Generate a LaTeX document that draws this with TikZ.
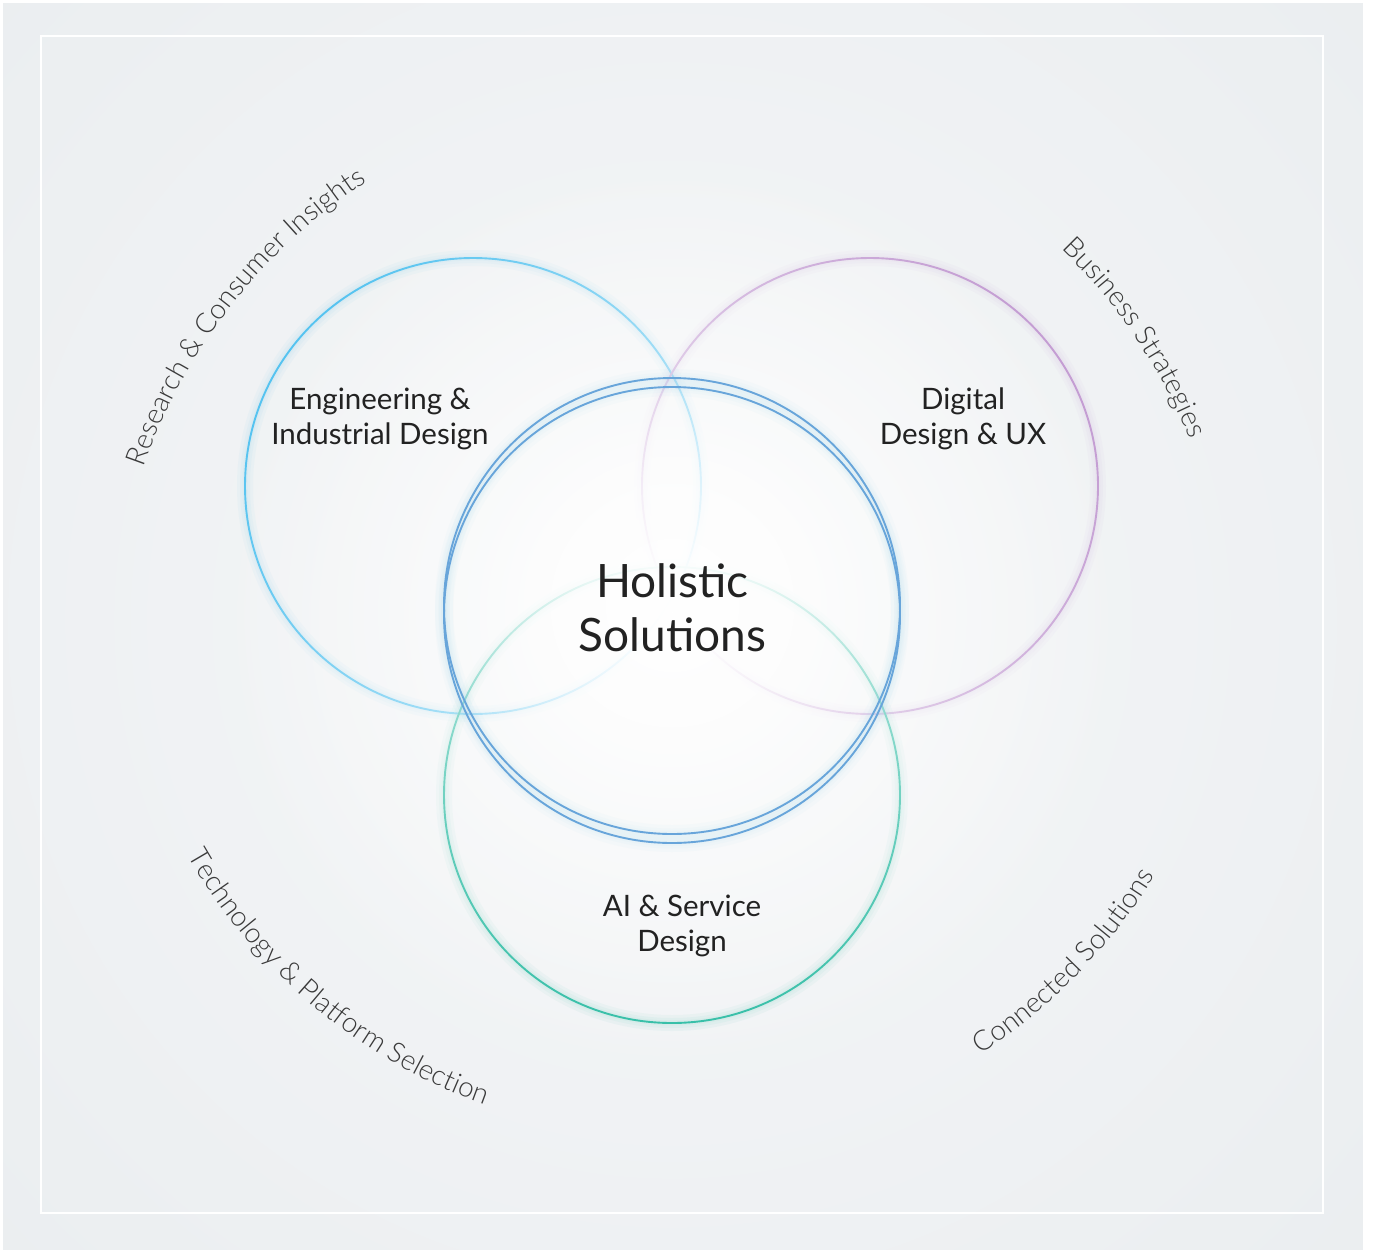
\documentclass[tikz,border=0pt]{standalone}
\usepackage{fontspec}
\setmainfont{Lato}
\newfontfamily\lightfont{Lato Light}
\usetikzlibrary{decorations.text,fadings}
\definecolor{panel}{HTML}{E6EAED}
\definecolor{ringblue}{HTML}{55C3F0}
\definecolor{ringpurple}{HTML}{C49DD3}
\definecolor{ringgreen}{HTML}{20B89E}
\definecolor{ringcore}{HTML}{68A5DA}
\definecolor{halocore}{HTML}{9FD3F0}
\definecolor{txtdark}{HTML}{222222}
\definecolor{txtarc}{HTML}{3A3A3A}
\tikzfading[name=softfade, inner color=transparent!35, outer color=transparent!100]
\tikzfading[name=glowfade, inner color=transparent!0, outer color=transparent!100]
\tikzset{
  ring/.style={line width=1.9pt},
  halo/.style={line width=#1, draw opacity=0.05},
  lbl/.style={font=\fontsize{29.5}{35}\selectfont, text=txtdark, inner sep=0pt, anchor=base},
  biglbl/.style={font=\fontsize{46}{55}\selectfont, text=txtdark, inner sep=0pt, anchor=base},
  arctext/.style={decorate, decoration={text along path, text align=center, text color=txtarc, text={|\lightfont\fontsize{28}{30}\selectfont|#1}}}
}
\begin{document}
\begin{tikzpicture}[x=1pt,y=1pt]
\useasboundingbox (0,0) rectangle (1376,-1251);
\fill[white] (0,0) rectangle (1376,-1251);
\fill[panel] (3,-3) rectangle (1363,-1250);
\begin{scope}
  \clip (3,-3) rectangle (1363,-1250);
  \fill[white, path fading=softfade] (672,-620) circle (1350);
\end{scope}
\draw[white, line width=2pt] (40.5,-35.5) rectangle (1323,-1213);

\coordinate (cb) at (473,-486);
\coordinate (cp) at (870,-486);
\coordinate (cg) at (672,-795);
\coordinate (cc1) at (672,-606);
\coordinate (cc2) at (672,-615);
\coordinate (cu) at (672,-650);
\coordinate (cl) at (672,-580);

% outer rings
\foreach \c/\p in {ringblue/cb, ringpurple/cp, ringgreen/cg}{
  \foreach \w in {16,10,5}{\draw[\c, halo=\w pt] (\p) circle (228);}
  \draw[\c, ring] (\p) circle (228);
}

% central white glow
\fill[white, path fading=glowfade] (672,-612) circle (460);
\fill[white, path fading=glowfade, fill opacity=0.7] (672,-605) circle (230);

% central double ring
\foreach \p in {cc1,cc2}{
  \foreach \w in {18,11,6}{\draw[halocore, halo=\w pt] (\p) circle (228);}
}
\draw[ringcore, ring] (cc1) circle (228);
\draw[ringcore, ring] (cc2) circle (228);

% labels
\node[lbl] (e1) at (380,-409) {Engineering \&};
\node[lbl] (e2) at (380,-444) {Industrial Design};
\node[lbl] (d1) at (963,-409) {Digital};
\node[lbl] (d2) at (963,-444) {Design \& UX};
\node[biglbl] (h1) at (672.5,-597) {Holistic};
\node[biglbl] (h2) at (672.5,-651) {Solutions};
\node[lbl] (a1) at (682,-916) {AI \& Service};
\node[lbl] (a2) at (682,-951) {Design};

% curved labels
\path[arctext={Research {\&} Consumer Insights}] ([shift={(172:559)}]cu) arc[start angle=172, end angle=112, radius=559];
\path[arctext={Business Strategies}] ([shift={(62:559)}]cu) arc[start angle=62, end angle=6, radius=559];
\path[arctext={Technology {\&} Platform Selection}] ([shift={(200:557)}]cl) arc[start angle=200, end angle=260, radius=557];
\path[arctext={Connected Solutions}] ([shift={(-74.2:566)}]cl) arc[start angle=-74.2, end angle=-14.2, radius=566];
\end{tikzpicture}
\end{document}
